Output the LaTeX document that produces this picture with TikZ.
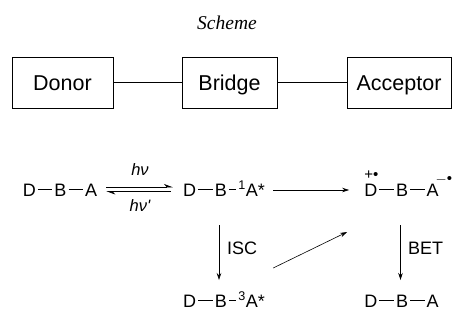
\documentclass[tikz,border=0pt]{standalone}
\usepackage{fontspec}
\setmainfont{Liberation Sans}
\newfontfamily\serifit{Liberation Serif}
\usetikzlibrary{arrows.meta}

% bonds drawn as rules at mid cap height
\newcommand{\bnd}{\hspace{0.12em}\rule[0.34em]{0.8em}{0.065em}\hspace{0.12em}}
\newcommand{\sbnd}{\hspace{0.15em}\rule[0.34em]{0.35em}{0.065em}\hspace{0.15em}}

\tikzset{
	unit/.style={draw, line width=0.8pt, minimum height=51pt, inner sep=0pt, text height=20pt, text depth=4pt, font=\fontsize{21.5}{24}\selectfont},
	mol/.style={inner sep=0pt, anchor=base, font=\fontsize{18}{20}\selectfont},
	lbl/.style={inner sep=0pt, font=\fontsize{18}{20}\selectfont},
	link/.style={line width=0.8pt},
	react/.style={line width=0.6pt, -{Stealth[length=7pt,width=4.5pt]}},
	eqarrow/.style={line width=0.6pt, -{Stealth[harpoon,length=8pt,width=6pt]}},
}

\begin{document}
\begin{tikzpicture}[x=1pt, y=-1pt]
	\useasboundingbox (0,0) rectangle (454,330);
	\node[font=\fontsize{19.5}{22}\selectfont\serifit\itshape] (title) at (227,23) {Scheme};
	% the three units
	\node[unit, minimum width=101pt] (donor) at (62.5,82.5) {Donor};
	\node[unit, minimum width=95pt] (bridge) at (229.5,82.5) {Bridge};
	\node[unit, minimum width=104pt] (acceptor) at (399,82.5) {Acceptor};
	\draw[link] (donor) -- (bridge);
	\draw[link] (bridge) -- (acceptor);
	% states
	\node[mol] (ground) at (60,196) {D\bnd B\bnd A};
	\node[mol] (singlet) at (224,196) {D\bnd B\sbnd\textsuperscript{1}A*};
	\node[mol] (ions) at (401.5,196) {\rlap{\raisebox{17pt}{\fontsize{15}{15}\selectfont+\textbullet}}D\bnd B\bnd A\rlap{\hspace{-3pt}\raisebox{13pt}{\fontsize{15}{15}\selectfont$-$\textbullet}}};
	\node[mol] (triplet) at (224,307) {D\bnd B\sbnd\textsuperscript{3}A*};
	\node[mol] (back) at (401.5,307) {D\bnd B\bnd A};
	% excitation and emission
	\draw[eqarrow, shorten <=9pt, shorten >=10pt] ([yshift=9pt]ground.base east) -- ([yshift=9pt]singlet.base west);
	\draw[eqarrow, shorten <=12pt, shorten >=9pt] ([yshift=4.5pt]singlet.base west) -- ([yshift=4.5pt]ground.base east);
	\node[font=\fontsize{16.5}{18}\selectfont\itshape] (hnu) at (140,170) {hν};
	\node[font=\fontsize{16.5}{18}\selectfont\itshape] (hnuprime) at (140,206) {hν\textquotesingle};
	% charge separation
	\draw[react, shorten <=8pt, shorten >=15pt] ([yshift=6pt]singlet.base east) -- ([yshift=6pt]ions.base west);
	\draw[react, shorten <=29pt, shorten >=27pt] ([xshift=-5pt]singlet.base) -- ([xshift=-5pt]triplet.base);
	\node[lbl, anchor=west] (isc) at (227,248) {ISC};
	\draw[react] ([shift={(8pt,39pt)}]triplet.base east) -- ([shift={(-17pt,-36pt)}]ions.base west);
	\draw[react, shorten <=29pt, shorten >=27pt] ([xshift=-1pt]ions.base) -- ([xshift=-1pt]back.base);
	\node[lbl, anchor=west] (bet) at (408,248) {BET};
\end{tikzpicture}
\end{document}
